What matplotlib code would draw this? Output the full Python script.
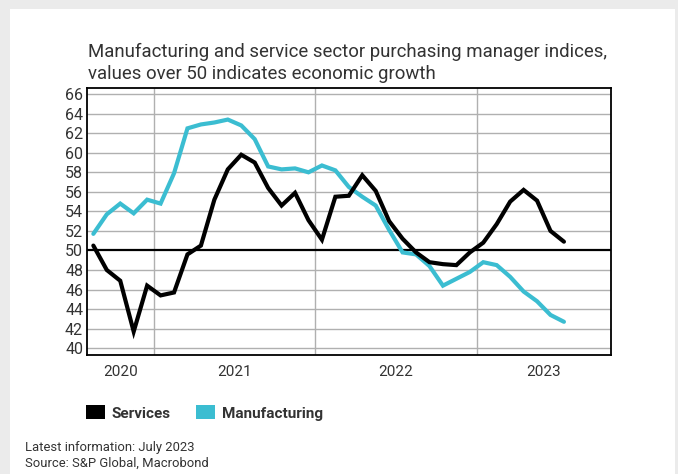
import matplotlib.pyplot as plt
from matplotlib.patches import Rectangle

# Eurozone PMI, monthly, Aug 2020 - Jul 2023
months = ['2020-08', '2020-09', '2020-10', '2020-11', '2020-12',
          '2021-01', '2021-02', '2021-03', '2021-04', '2021-05', '2021-06',
          '2021-07', '2021-08', '2021-09', '2021-10', '2021-11', '2021-12',
          '2022-01', '2022-02', '2022-03', '2022-04', '2022-05', '2022-06',
          '2022-07', '2022-08', '2022-09', '2022-10', '2022-11', '2022-12',
          '2023-01', '2023-02', '2023-03', '2023-04', '2023-05', '2023-06',
          '2023-07']
services = [50.5, 48.0, 46.9, 41.7, 46.4,
            45.4, 45.7, 49.6, 50.5, 55.2, 58.3,
            59.8, 59.0, 56.4, 54.6, 55.9, 53.1,
            51.1, 55.5, 55.6, 57.7, 56.1, 53.0,
            51.2, 49.8, 48.8, 48.6, 48.5, 49.8,
            50.8, 52.7, 55.0, 56.2, 55.1, 52.0,
            50.9]
manufacturing = [51.7, 53.7, 54.8, 53.8, 55.2,
                 54.8, 57.9, 62.5, 62.9, 63.1, 63.4,
                 62.8, 61.4, 58.6, 58.3, 58.4, 58.0,
                 58.7, 58.2, 56.5, 55.5, 54.6, 52.1,
                 49.8, 49.6, 48.4, 46.4, 47.1, 47.8,
                 48.8, 48.5, 47.3, 45.8, 44.8, 43.4,
                 42.7]
years = ['2020', '2021', '2022', '2023']
yticks = list(range(40, 67, 2))

col_serv = '#000000'
col_manu = '#3bbdd1'
txt = '#333333'

plt.rcParams['font.family'] = ['Roboto', 'DejaVu Sans']

fig = plt.figure(figsize=(6.78, 4.74), dpi=100)
fig.patch.set_facecolor('#ebebeb')
# white panel
fig.patches.append(Rectangle((10 / 678, 0), 665 / 678, 1 - 9 / 474,
                             transform=fig.transFigure, facecolor='white',
                             edgecolor='none', zorder=-5))

ax = fig.add_axes([87.3 / 678, 1 - 355 / 474, (611 - 87.3) / 678, (355 - 88.3) / 474])
ax.set_zorder(2)
ax.set_facecolor('white')

x = list(range(len(months)))
ax.plot(x, manufacturing, color=col_manu, lw=3, solid_capstyle='round', solid_joinstyle='miter', zorder=3)
ax.plot(x, services, color=col_serv, lw=3, solid_capstyle='round', solid_joinstyle='miter', zorder=4)

ax.set_xlim(-0.45, 38.5)
ax.set_ylim(39.3, 66.6)

for v in yticks:
    if v != 50:
        ax.axhline(v, color='#b0b0b0', lw=1, zorder=1)
ax.axhline(50, color='black', lw=1.6, zorder=2)
# year boundaries (Jan 1st, between Dec and Jan)
for b in [4.5, 16.5, 28.5]:
    ax.axvline(b, color='#b0b0b0', lw=1, zorder=1)

ax.set_yticks(yticks)
ax.set_yticklabels([str(v) for v in yticks], fontsize=11.5, color=txt)
ax.set_xticks([2.0, 10.5, 22.5, 33.5])
ax.set_xticklabels(years, fontsize=11, color=txt)
ax.tick_params(axis='both', length=0)
ax.tick_params(axis='y', pad=3)
ax.tick_params(axis='x', pad=7)
for s in ax.spines.values():
    s.set_linewidth(1.3)
    s.set_color('black')

fig.text(88 / 678, 1 - 57 / 474,
         'Manufacturing and service sector purchasing manager indices,',
         fontsize=13.4, color=txt, va='baseline')
fig.text(88 / 678, 1 - 79 / 474,
         'values over 50 indicates economic growth',
         fontsize=13.4, color=txt, va='baseline')

# legend
fig.patches.append(Rectangle((86 / 678, 1 - 419 / 474), 19 / 678, 14 / 474,
                             transform=fig.transFigure, facecolor=col_serv, edgecolor='none'))
fig.text(111 / 678, 1 - 418 / 474, 'Services', fontsize=11, fontweight='bold',
         color=txt, va='baseline')
fig.patches.append(Rectangle((196 / 678, 1 - 419 / 474), 19 / 678, 14 / 474,
                             transform=fig.transFigure, facecolor=col_manu, edgecolor='none'))
fig.text(222 / 678, 1 - 418 / 474, 'Manufacturing', fontsize=11, fontweight='bold',
         color=txt, va='baseline')

fig.text(25 / 678, 1 - 451 / 474, 'Latest information: July 2023',
         fontsize=9.4, color=txt, va='baseline')
fig.text(25 / 678, 1 - 467 / 474, 'Source: S&P Global, Macrobond',
         fontsize=9.4, color=txt, va='baseline')

fig.savefig('out.png', dpi=100, facecolor=fig.get_facecolor())
